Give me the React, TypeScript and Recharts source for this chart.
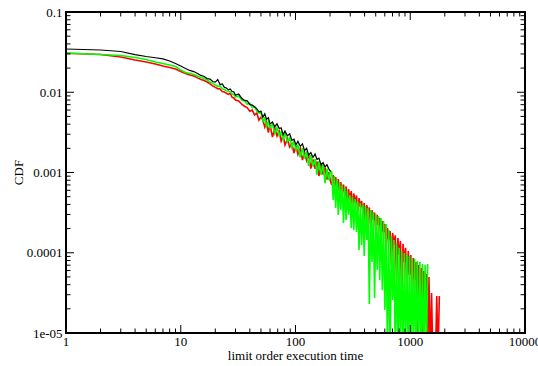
import { LineChart, Line, XAxis, YAxis } from "recharts";

// execution time (shared x grid for all three curves)
const execTime = [
  1, 2, 3, 4, 5, 6, 7, 8, 9, 10, 11, 12, 13, 14, 15, 16, 17, 18, 19, 20,
  21, 22, 23, 24, 25, 26, 27, 28, 29, 30, 32, 34, 36, 38, 40, 42, 44, 46, 48, 50,
  52, 54, 56, 58, 60, 63, 66, 69, 72, 75, 78, 81, 85, 89, 93, 97, 101, 105, 110, 115,
  120, 125, 130, 136, 142, 148, 154, 160, 167, 174, 181, 188, 195, 202,
  207, 213, 218, 224, 230, 236, 242, 248, 255, 262, 269, 276, 283, 290, 298, 306,
  314, 322, 331, 340, 349, 358, 367, 377, 387, 397, 407, 418, 429, 440, 452, 464,
  476, 489, 502, 515, 528, 542, 556, 571, 586, 601, 617, 633, 650, 667, 685, 703,
  721, 740, 760, 780, 800, 821, 843, 865, 888, 911, 935, 960, 985, 1011, 1038, 1065,
  1093, 1122, 1152, 1182, 1213, 1245, 1278, 1312, 1347, 1382, 1418, 1456, 1494, 1534,
  1574, 1616, 1658, 1702, 1747, 1793,
];

const cdfBlack = [
  0.0346, 0.0336, 0.0322, 0.0295, 0.0279, 0.0269, 0.026, 0.0245, 0.0228, 0.0212,
  0.0198, 0.0187, 0.0181, 0.0171, 0.0162, 0.0157, 0.0148, 0.0146, 0.0136, 0.0134,
  0.0144, 0.0125, 0.0127, 0.0115, 0.0113, 0.0107, 0.011, 0.0102, 0.0101, 0.0092,
  0.0095, 0.0084, 0.0079, 0.0078, 0.007, 0.0069, 0.0066, 0.0062, 0.0057, 0.0058,
  0.00488, 0.00539, 0.0046, 0.00482, 0.00402, 0.00426, 0.00371, 0.00406, 0.00356, 0.00359,
  0.00298, 0.00329, 0.00286, 0.00304, 0.00251, 0.0026, 0.00221, 0.00245, 0.00213, 0.00227,
  0.00187, 0.00201, 0.00166, 0.00177, 0.00154, 0.0017, 0.00145, 0.00151, 0.00125, 0.00133,
  0.00117, 0.00125, 0.00111, 0.00103,
];

const cdfRed = [
  0.0306, 0.0296, 0.0275, 0.0252, 0.0238, 0.0225, 0.0212, 0.0203, 0.0195, 0.0181,
  0.0171, 0.0164, 0.0159, 0.0151, 0.0144, 0.014, 0.0134, 0.0127, 0.012, 0.0115,
  0.0111, 0.011, 0.0102, 0.0101, 0.0097, 0.0094, 0.0097, 0.0087, 0.0085, 0.008,
  0.0078, 0.0071, 0.0067, 0.0064, 0.0058, 0.006, 0.0052, 0.0055, 0.0045, 0.0049,
  0.00451, 0.00369, 0.00426, 0.00315, 0.00391, 0.00277, 0.00358, 0.00285, 0.00329, 0.00247,
  0.00289, 0.0022, 0.00262, 0.00208, 0.0023, 0.00175, 0.00215, 0.00168, 0.00201, 0.00143,
  0.00177, 0.00141, 0.0017, 0.00112, 0.00146, 0.00111, 0.00137, 0.000904, 0.00125, 0.000945,
  0.00114, 0.000815, 0.00101, 0.000774,
  0.000699, 0.000931, 0.000605, 0.000879, 0.000641, 0.00083, 0.000524, 0.000761, 0.000571, 0.000709,
  0.000481, 0.00067, 0.000393, 0.000623, 0.000454, 0.000588, 0.000361, 0.000548, 0.000417, 0.000517,
  0.000322, 0.000481, 0.000372, 0.000441, 0.000296, 0.000417, 0.000222, 0.000393, 0.000322, 0.000366,
  0.000203, 0.000341, 0.000256, 0.000317, 0.000166, 0.000296, 0.000222, 0.000271, 0.000125, 0.000249,
  0.000181, 0.000228, 0.000108, 0.000203, 0.000144, 0.000187, 0.0000704, 0.000176, 0.000125, 0.000165,
  0.0000457, 0.000153, 0.0000938, 0.00014, 0.0000258, 0.000129, 0.0000767, 0.000115, 0.0000258, 0.000105,
  0.0000528, 0.0000938, 0.0000193, 0.000086, 0.0000457, 0.0000767, 0.000005, 0.0000704, 0.0000343, 0.0000646,
  0.000005, 0.0000593, 0.0000297, 0.0000543, 0.000005, 0.0000499, 0.000005, 0.0000315, 0.000005, 0.000005,
  0.000005, 0.0000289, 0.000005, 0.0000289,
];

const cdfGreen = [
  0.0308, 0.0295, 0.0287, 0.0271, 0.0256, 0.0238, 0.0228, 0.0219, 0.0209, 0.0189,
  0.0176, 0.0171, 0.0166, 0.0159, 0.0153, 0.0148, 0.0142, 0.0134, 0.013, 0.0123,
  0.0118, 0.012, 0.011, 0.0108, 0.0104, 0.0102, 0.0101, 0.0095, 0.0094, 0.0087,
  0.009, 0.008, 0.0078, 0.0071, 0.0073, 0.0064, 0.0066, 0.0058, 0.0055, 0.0057,
  0.00435, 0.00481, 0.00376, 0.00429, 0.00358, 0.00402, 0.00304, 0.00363, 0.00291, 0.0032,
  0.00258, 0.00311, 0.00241, 0.00271, 0.00205, 0.00246, 0.00192, 0.00218, 0.00155, 0.00202,
  0.00149, 0.00184, 0.00121, 0.00167, 0.00119, 0.00148, 0.000941, 0.00139, 0.000933, 0.00129,
  0.000737, 0.00112, 0.000806, 0.00104,
  0.00101, 0.000454, 0.000904, 0.000361, 0.000806, 0.000296, 0.00075, 0.000341, 0.000699, 0.000235,
  0.000641, 0.000256, 0.000588, 0.000296, 0.000524, 0.000203, 0.000495, 0.000192, 0.000467, 0.000181,
  0.000441, 0.000108, 0.000417, 0.000125, 0.000393, 0.0000911, 0.000382, 0.000144, 0.000361, 0.000023,
  0.000341, 0.0000767, 0.000322, 0.0000273, 0.000304, 0.000061, 0.000287, 0.0000457, 0.000271, 0.0000343,
  0.000249, 0.0000193, 0.000228, 0.000005, 0.000192, 0.000005, 0.000162, 0.0000258, 0.000144, 0.000005,
  0.000129, 0.000005, 0.000115, 0.000005, 0.000105, 0.000005, 0.0000991, 0.000005, 0.0000938, 0.000005,
  0.0000911, 0.000005, 0.000086, 0.000005, 0.0000836, 0.000005, 0.0000789, 0.000005, 0.0000767, 0.000005,
  0.0000724, 0.000005, 0.0000704, 0.000005, 0.0000724,
];

const xMajor = [1, 10, 100, 1000, 10000];
const xMajorLabels = ["1", "10", "100", "1000", "10000"];
const yMajor = [0.00001, 0.0001, 0.001, 0.01, 0.1];
const yMajorLabels = ["1e-05", "0.0001", "0.001", "0.01", "0.1"];

const FONT = "'Liberation Serif', 'Times New Roman', serif";

// majors plus the 2..9 minor ticks of each decade
function withMinors(majors: number[]) {
  const out: number[] = [];
  majors.forEach((m, i) => {
    out.push(m);
    if (i < majors.length - 1) for (let k = 2; k <= 9; k++) out.push(m * k);
  });
  return out;
}

const toSeries = (vals: number[]) => vals.map((v, i) => ({ t: execTime[i], v }));

type Side = "bottom" | "top" | "left" | "right";

function makeTick(side: Side, majors: number[], labels: string[]) {
  return (props: any) => {
    const { x, y, payload } = props;
    const idx = majors.findIndex((m) => Math.abs(m - payload.value) / m < 1e-6);
    const len = idx >= 0 ? 8 : 4.5;
    let x2 = x;
    let y2 = y;
    if (side === "bottom") y2 = y - len;
    if (side === "top") y2 = y + len;
    if (side === "left") x2 = x + len;
    if (side === "right") x2 = x - len;
    return (
      <g>
        <line x1={x} y1={y} x2={x2} y2={y2} stroke="#000" strokeWidth={1} />
        {idx >= 0 && side === "bottom" && (
          <text x={x} y={y + 12.5} textAnchor="middle" fontFamily={FONT} fontSize={13} fill="#000">
            {labels[idx]}
          </text>
        )}
        {idx >= 0 && side === "left" && (
          <text x={x - 3.5} y={y + 4.5} textAnchor="end" fontFamily={FONT} fontSize={13} fill="#000">
            {labels[idx]}
          </text>
        )}
      </g>
    );
  };
}

const frame = { stroke: "#000", strokeWidth: 2, strokeLinecap: "square" as const };

export default function App() {
  const xTicks = withMinors(xMajor);
  const yTicks = withMinors(yMajor);

  return (
    <div style={{ position: "absolute", left: 0, top: 0, width: 538, height: 366, background: "#fff" }}>
      <LineChart width={538} height={366} margin={{ top: 11, right: 12, bottom: 32, left: 65 }}>
        <XAxis
          xAxisId="bottom"
          dataKey="t"
          type="number"
          scale="log"
          domain={[1, 10000]}
          allowDataOverflow
          ticks={xTicks}
          interval={0}
          height={1}
          tickSize={0}
          tickMargin={0}
          axisLine={frame}
          tick={makeTick("bottom", xMajor, xMajorLabels)}
        />
        <XAxis
          xAxisId="top"
          orientation="top"
          dataKey="t"
          type="number"
          scale="log"
          domain={[1, 10000]}
          allowDataOverflow
          ticks={xTicks}
          interval={0}
          height={1}
          tickSize={0}
          tickMargin={0}
          axisLine={frame}
          tick={makeTick("top", xMajor, xMajorLabels)}
        />
        <YAxis
          yAxisId="left"
          type="number"
          scale="log"
          domain={[0.00001, 0.1]}
          allowDataOverflow
          ticks={yTicks}
          interval={0}
          width={1}
          tickSize={0}
          tickMargin={0}
          axisLine={frame}
          tick={makeTick("left", yMajor, yMajorLabels)}
        />
        <YAxis
          yAxisId="right"
          orientation="right"
          type="number"
          scale="log"
          domain={[0.00001, 0.1]}
          allowDataOverflow
          ticks={yTicks}
          interval={0}
          width={1}
          tickSize={0}
          tickMargin={0}
          axisLine={frame}
          tick={makeTick("right", yMajor, yMajorLabels)}
        />
        <Line
          xAxisId="bottom"
          yAxisId="left"
          data={toSeries(cdfRed)}
          dataKey="v"
          type="linear"
          stroke="#ff0000"
          strokeWidth={1.6}
          dot={false}
          isAnimationActive={false}
        />
        <Line
          xAxisId="bottom"
          yAxisId="left"
          data={toSeries(cdfGreen)}
          dataKey="v"
          type="linear"
          stroke="#00ff00"
          strokeWidth={1.6}
          dot={false}
          isAnimationActive={false}
        />
        <Line
          xAxisId="bottom"
          yAxisId="left"
          data={toSeries(cdfBlack)}
          dataKey="v"
          type="linear"
          stroke="#000000"
          strokeWidth={1.2}
          dot={false}
          isAnimationActive={false}
        />
      </LineChart>
      <svg
        width={538}
        height={366}
        style={{ position: "absolute", left: 0, top: 0, pointerEvents: "none" }}
      >
        <text x={295.5} y={359.5} textAnchor="middle" fontFamily={FONT} fontSize={13} fill="#000">
          limit order execution time
        </text>
        <text
          x={23}
          y={172.5}
          textAnchor="middle"
          fontFamily={FONT}
          fontSize={13}
          fill="#000"
          transform="rotate(-90 23 172.5)"
        >
          CDF
        </text>
      </svg>
    </div>
  );
}
